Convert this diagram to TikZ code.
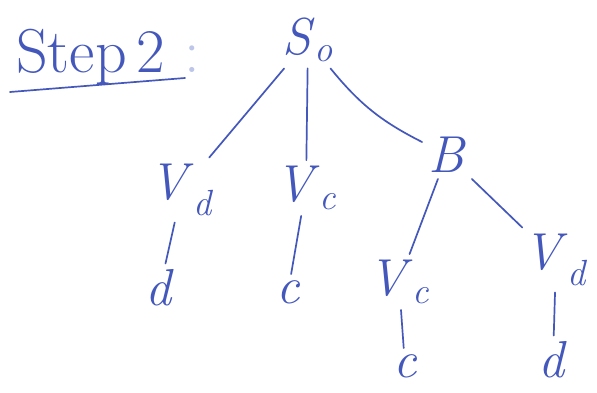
\documentclass[tikz,border=0pt]{standalone}
\usepackage{fontspec}
\usepackage{tikz}
\definecolor{ink}{RGB}{68,88,188}
% italic symbol with an italic subscript
\newcommand{\sym}[2]{\textit{#1}\textsubscript{\textit{#2}}}
\begin{document}
\begin{tikzpicture}[x=1pt,y=-1pt,
  lbl/.style={text=ink,inner sep=6pt,font=\fontsize{52}{52}\selectfont},
  edge/.style={draw=ink,line width=1.7pt,line cap=round}]
\useasboundingbox (0,0) rectangle (597,392);
\fill[white] (0,0) rectangle (597,392);
% heading
\node[text=ink,font=\fontsize{62}{62}\selectfont,anchor=base west,inner sep=0pt] (step) at (16,72) {Step\,2 \textcolor{ink!35}{:}};
\coordinate (ul1) at (10,92);
\coordinate (ul2) at (185,78);
\draw[edge] (ul1) -- (ul2);
% tree nodes
\node[lbl] (s0)  at (308,40)  {\sym{S}{o}};
\node[lbl] (vd1) at (182,190) {\sym{V}{d}};
\node[lbl] (vc1) at (306,188) {\sym{V}{c}};
\node[lbl] (b)   at (447,155) {\textit{B}};
\node[lbl] (d1)  at (160,288) {\textit{d}};
\node[lbl] (c1)  at (288,292) {\textit{c}};
\node[lbl] (vc2) at (399,282) {\sym{V}{c}};
\node[lbl] (vd2) at (556,260) {\sym{V}{d}};
\node[lbl] (c2)  at (405,366) {\textit{c}};
\node[lbl] (d2)  at (553,360) {\textit{d}};
% branches
\draw[edge] (s0) -- (vd1);
\draw[edge] (s0) -- (vc1);
\draw[edge] (s0) to[bend right=12] (b);
\draw[edge] (vd1) -- (d1);
\draw[edge] (vc1) -- (c1);
\draw[edge] (b) -- (vc2);
\draw[edge] (b) -- (vd2);
\draw[edge] (vc2) -- (c2);
\draw[edge] (vd2) -- (d2);
\end{tikzpicture}
\end{document}
